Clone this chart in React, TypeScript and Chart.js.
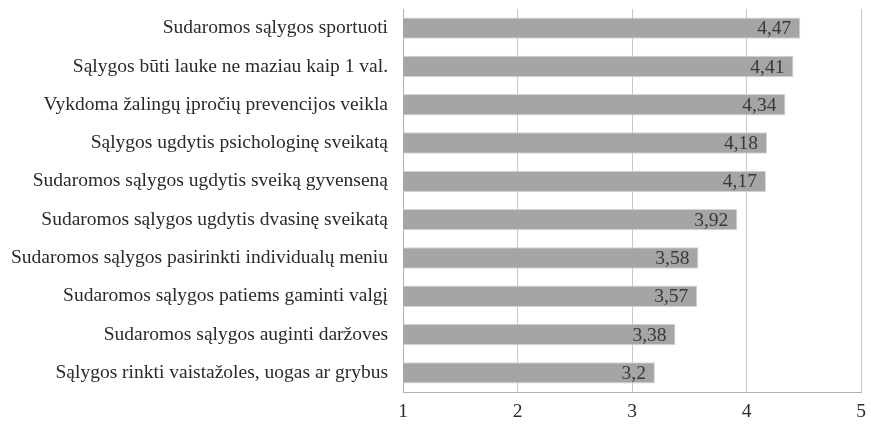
import React, { useEffect, useRef } from "react";
import { Chart, registerables } from "chart.js";

Chart.register(...registerables);

const categories = [
  "Sudaromos sąlygos sportuoti",
  "Sąlygos būti lauke ne maziau kaip 1 val.",
  "Vykdoma žalingų įpročių prevencijos veikla",
  "Sąlygos ugdytis psichologinę sveikatą",
  "Sudaromos sąlygos ugdytis sveiką gyvenseną",
  "Sudaromos sąlygos ugdytis dvasinę sveikatą",
  "Sudaromos sąlygos pasirinkti individualų meniu",
  "Sudaromos sąlygos patiems gaminti valgį",
  "Sudaromos sąlygos auginti daržoves",
  "Sąlygos rinkti vaistažoles, uogas ar grybus",
];
const values = [4.47, 4.41, 4.34, 4.18, 4.17, 3.92, 3.58, 3.57, 3.38, 3.2];
const xTicks = [1, 2, 3, 4, 5];

const FONT = "'Liberation Serif', 'Times New Roman', serif";
const FS = 19.5;

const valueLabels = {
  id: "valueLabels",
  afterDatasetsDraw(chart: any) {
    const ctx = chart.ctx;
    const meta = chart.getDatasetMeta(0);
    ctx.save();
    ctx.font = `${FS}px ${FONT}`;
    ctx.fillStyle = "#383838";
    ctx.textAlign = "right";
    ctx.textBaseline = "middle";
    meta.data.forEach((bar: any, i: number) => {
      const txt = String(values[i]).replace(".", ",");
      ctx.fillText(txt, bar.x - 9, bar.y + 1);
    });
    ctx.restore();
  },
};

export default function App() {
  const ref = useRef<HTMLCanvasElement>(null);
  useEffect(() => {
    if (!ref.current) return;
    const chart = new Chart(ref.current, {
      type: "bar",
      data: {
        labels: categories,
        datasets: [
          {
            data: values,
            backgroundColor: "#a5a5a8",
            borderColor: "#d4d4d4",
            borderWidth: 1,
            barPercentage: 0.56,
            categoryPercentage: 1,
          },
        ],
      },
      options: {
        indexAxis: "y",
        animation: false,
        responsive: true,
        maintainAspectRatio: false,
        layout: { padding: { left: 0, right: 10, top: 9, bottom: 0 } },
        plugins: {
          legend: { display: false },
          tooltip: { enabled: false },
        },
        scales: {
          x: {
            min: 1,
            max: 5,
            afterBuildTicks(scale: any) {
              scale.ticks = xTicks.map((v) => ({ value: v }));
            },
            afterFit(scale: any) {
              scale.height = 32;
              scale.paddingLeft = 0;
              scale.paddingRight = 0;
            },
            grid: { color: "#c8c8c8", lineWidth: 1, drawTicks: false },
            border: { display: true, color: "#b0b0b0", width: 1 },
            ticks: {
              padding: 8,
              color: "#2a2a2a",
              font: { family: FONT, size: FS },
            },
          },
          y: {
            afterFit(scale: any) {
              scale.width = 403;
              scale.paddingTop = 0;
              scale.paddingBottom = 0;
            },
            grid: { display: false, drawTicks: false },
            border: { display: true, color: "#b0b0b0", width: 1 },
            ticks: {
              padding: 15,
              color: "#2a2a2a",
              font: { family: FONT, size: FS },
            },
          },
        },
      },
      plugins: [valueLabels],
    });
    return () => chart.destroy();
  }, []);
  return (
    <div style={{ position: "fixed", left: 0, top: 0, width: 871, height: 424 }}>
      <canvas ref={ref} />
    </div>
  );
}
